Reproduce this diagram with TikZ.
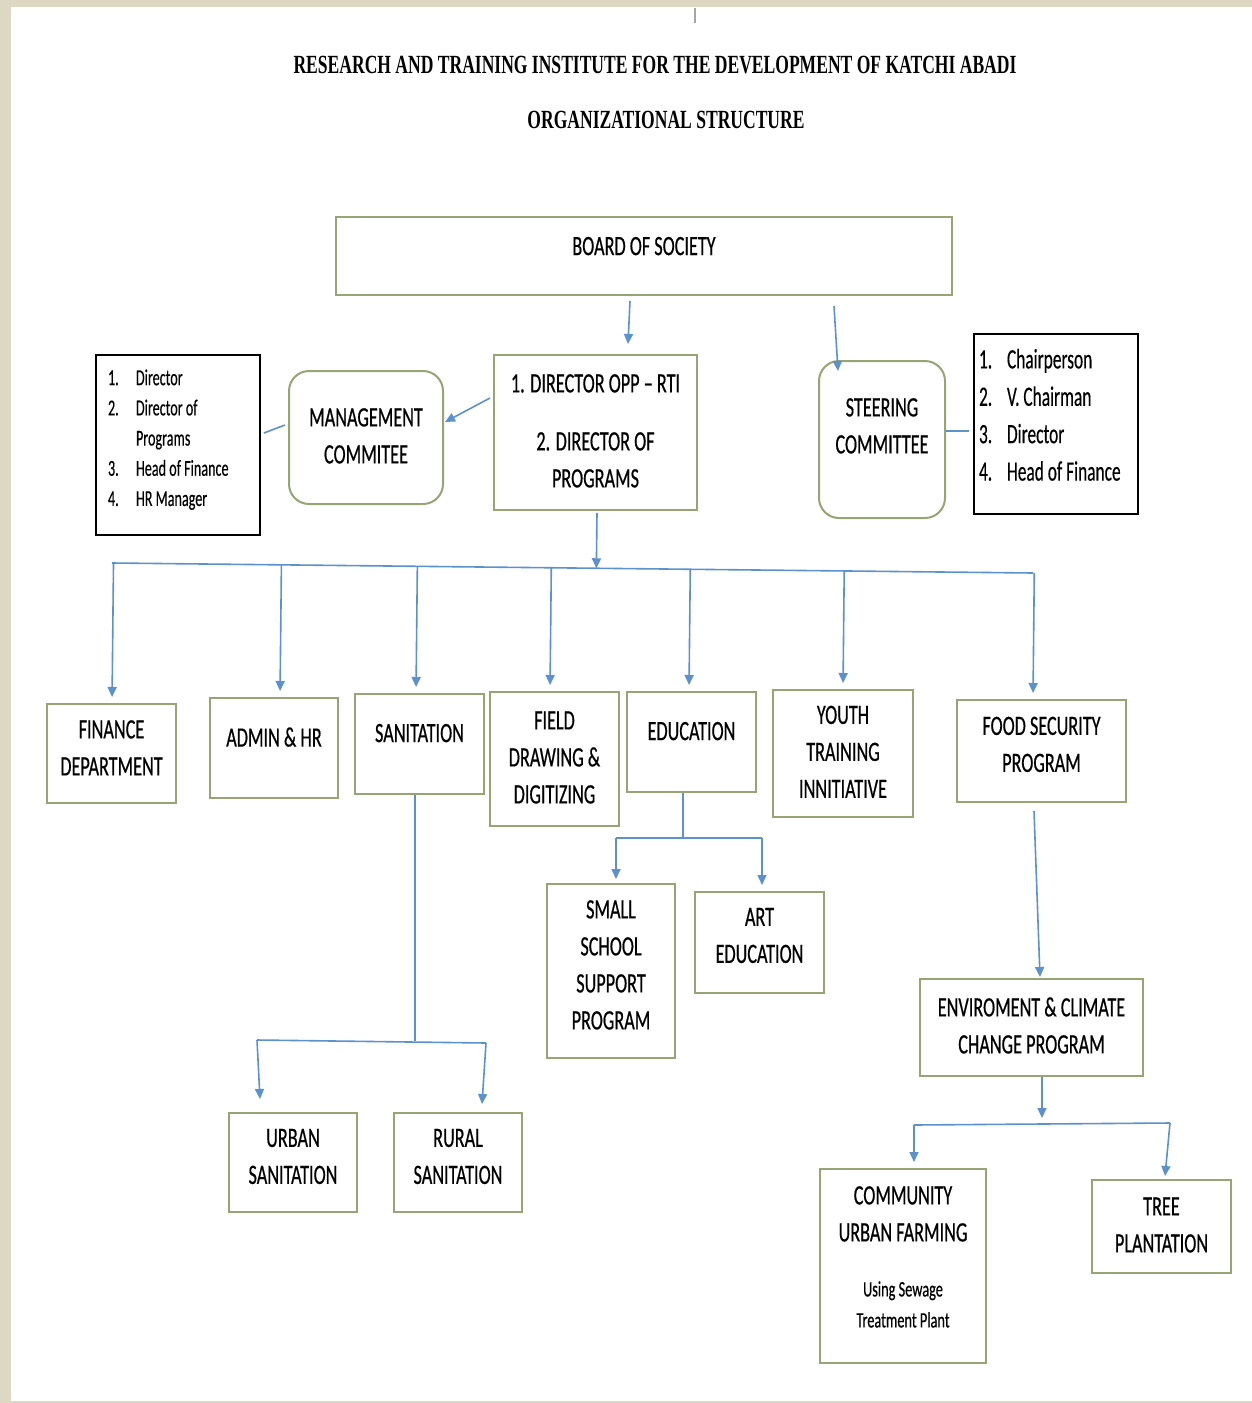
\documentclass[tikz,border=0pt]{standalone}
\usepackage{fontspec}
\setmainfont{Carlito}[FakeStretch=0.65, FakeBold=0.5]
\newfontfamily\listfont{Carlito}[FakeStretch=0.62, FakeBold=0.3]
\newfontfamily\titlefont{Liberation Serif}[FakeStretch=0.67]
\usetikzlibrary{arrows.meta,calc}

\definecolor{pagebg}{RGB}{221,216,195}
\definecolor{boxline}{RGB}{150,165,115}
\definecolor{arrowblue}{RGB}{91,145,205}

\newcommand{\boxlines}[1]{\begin{tabular}{@{}c@{}}#1\end{tabular}}
\newcommand{\listlines}[2]{\begin{tabular}{@{}p{#1}@{}}#2\end{tabular}}
\newcommand{\notetext}[1]{{\fontsize{11}{15.5}\selectfont #1}}

\tikzset{
	frame/.style n args={4}{minimum width={(#3-#1)*0.5pt}, minimum height={(#4-#2)*0.5pt}, at={({(#1+#3)/2},{(#2+#4)/2})}},
	box/.style={draw=boxline, line width=1pt, fill=white, inner sep=0pt, font=\fontsize{14}{18.5}\selectfont},
	roundbox/.style={box, rounded corners=10pt},
	listbox/.style={draw=black, line width=0.9pt, fill=white, inner sep=0pt},
	titletext/.style={font=\titlefont\bfseries\fontsize{13.1}{16}\selectfont, inner sep=0pt},
	arr/.style={draw=arrowblue, line width=0.8pt, -{Triangle[length=5pt,width=4.5pt]}},
	link/.style={draw=arrowblue, line width=0.8pt},
}

\begin{document}
\begin{tikzpicture}[x=0.5pt, y=-0.5pt]
		\fill[pagebg] (0,0) rectangle (1252,1403);
		\fill[white] (11,7) rectangle (1252,1401);
		\draw[gray!70, line width=0.6pt] (695,8) -- (695,23);
		
		\node[titletext] (title) at (655,65) {RESEARCH AND TRAINING INSTITUTE FOR THE DEVELOPMENT OF KATCHI ABADI};
		\node[titletext] (subtitle) at (666,120) {ORGANIZATIONAL STRUCTURE};
		
		\node[box, frame={336}{217}{952}{295}, text depth=10pt] (board) {BOARD OF SOCIETY};
		\node[box, frame={494}{355}{697}{510}] (dir) {\boxlines{1. DIRECTOR OPP – RTI\\[10.5pt]2. DIRECTOR OF\\PROGRAMS}};
		\node[roundbox, frame={289}{371}{443}{504}] (mgmt) {\boxlines{MANAGEMENT\\COMMITEE}};
		\node[roundbox, frame={819}{361}{945}{518}] (steer) {\boxlines{STEERING\\COMMITTEE\\[12pt]}};
		\node[listbox, frame={96}{355}{260}{535}, font=\listfont\fontsize{11.4}{15.1}\selectfont] (mlist) {\listlines{70pt}{\makebox[14pt][l]{1.}Director\\\makebox[14pt][l]{2.}Director of\\\makebox[14pt][l]{}Programs\\\makebox[14pt][l]{3.}Head of Finance\\\makebox[14pt][l]{4.}HR Manager\\[5.5pt]}};
		\node[listbox, frame={974}{334}{1138}{514}, font=\listfont\fontsize{14}{18.7}\selectfont] (slist) {\listlines{77pt}{\makebox[14pt][l]{1.}Chairperson\\\makebox[14pt][l]{2.}V. Chairman\\\makebox[14pt][l]{3.}Director\\\makebox[14pt][l]{4.}Head of Finance\\[7pt]}};
		
		\node[box, frame={47}{704}{176}{803}] (fin) {\boxlines{FINANCE\\DEPARTMENT\\[4pt]}};
		\node[box, frame={210}{698}{338}{798}, text depth=11pt] (adm) {ADMIN \& HR};
		\node[box, frame={355}{694}{484}{794}, text depth=11pt] (san) {SANITATION};
		\node[box, frame={490}{692}{619}{826}] (fld) {\boxlines{FIELD\\DRAWING \&\\DIGITIZING}};
		\node[box, frame={627}{692}{756}{792}, text depth=11pt] (edu) {EDUCATION};
		\node[box, frame={773}{690}{913}{817}] (yth) {\boxlines{YOUTH\\TRAINING\\INNITIATIVE}};
		\node[box, frame={957}{700}{1126}{802}] (food) {\boxlines{FOOD SECURITY\\PROGRAM\\[5pt]}};
		
		\node[box, frame={547}{884}{675}{1058}] (ssp) {\boxlines{SMALL\\SCHOOL\\SUPPORT\\PROGRAM\\[4.5pt]}};
		\node[box, frame={695}{892}{824}{993}] (art) {\boxlines{ART\\EDUCATION\\[5.5pt]}};
		\node[box, frame={229}{1113}{357}{1212}] (urb) {\boxlines{URBAN\\SANITATION\\[4.5pt]}};
		\node[box, frame={394}{1113}{522}{1212}] (rur) {\boxlines{RURAL\\SANITATION\\[4.5pt]}};
		\node[box, frame={920}{979}{1143}{1076}] (env) {\boxlines{ENVIROMENT \& CLIMATE\\CHANGE PROGRAM}};
		\node[box, frame={820}{1169}{986}{1363}] (com) {\boxlines{COMMUNITY\\URBAN FARMING\\[9pt]\notetext{Using Sewage}\\[-3pt]\notetext{Treatment Plant}\\[7.5pt]}};
		\node[box, frame={1092}{1180}{1231}{1273}] (tree) {\boxlines{TREE\\PLANTATION}};
		
		\draw[arr] ([shift={(-14,5)}]board.south) -- ([shift={(32.5,-10)}]dir.north);
		\draw[arr] ([shift={(190,10)}]board.south) -- ([shift={(-44,11)}]steer.north);
		\draw[arr] ([shift={(-3,-34.5)}]dir.west) -- ([shift={(1,-15.5)}]mgmt.east);
		\draw[link] ([shift={(3,-12)}]mlist.east) -- ([shift={(-3,-12.5)}]mgmt.west);
		\draw[link] ([shift={(0,-8.5)}]steer.east) -- ([shift={(-4,7)}]slist.west);
		
		\coordinate (busL) at (112,563);
		\coordinate (busR) at (1033,573);
		\coordinate (dirOut) at ([shift={(1.5,2)}]dir.south);
		\draw[link] (busL) -- (busR);
		\draw[arr] (dirOut) -- ($(busL)!(dirOut)!(busR)$);
		\foreach \dept/\dx in {fin/0.5,adm/6,san/-3.5,fld/-4.5,edu/-2.5,yth/0,food/-8.5}{
			\coordinate (\dept-in) at ([shift={(\dx,0)}]\dept.north);
			\draw[arr, shorten >=3pt] ($(busL)!(\dept-in)!(busR)$) -- (\dept-in);
		}
		
		\coordinate (eduJ) at (683,838);
		\coordinate (eduL) at (616,838);
		\coordinate (eduR) at (762,838);
		\draw[link] (edu.south -| eduJ) -- (eduJ);
		\draw[link] (eduL) -- (eduR);
		\draw[arr, shorten >=2pt] (eduL) -- (ssp.north -| eduL);
		\draw[arr, shorten >=3pt] (eduR) -- (art.north -| eduR);
		
		\coordinate (sanJ) at (415,1041);
		\coordinate (sanL) at (257,1040);
		\coordinate (sanR) at (486,1043);
		\draw[link] (san.south -| sanJ) -- (sanJ);
		\draw[link] (sanL) -- (sanR);
		\draw[arr] (sanL) -- ([shift={(-33,-13)}]urb.north);
		\draw[arr] (sanR) -- ([shift={(24,-8)}]rur.north);
		
		\draw[arr] ([shift={(-7.5,8)}]food.south) -- ([shift={(8.5,-1)}]env.north);
		\coordinate (envJ) at (1042,1118);
		\coordinate (envL) at (914,1125);
		\coordinate (envR) at (1170,1123);
		\draw[arr] (env.south -| envJ) -- (envJ);
		\draw[link] (envL) -- (envR);
		\draw[arr, shorten >=3pt] (envL) -- (com.north -| envL);
		\draw[arr] (envR) -- ([shift={(3.5,-3)}]tree.north);
\end{tikzpicture}
\end{document}
